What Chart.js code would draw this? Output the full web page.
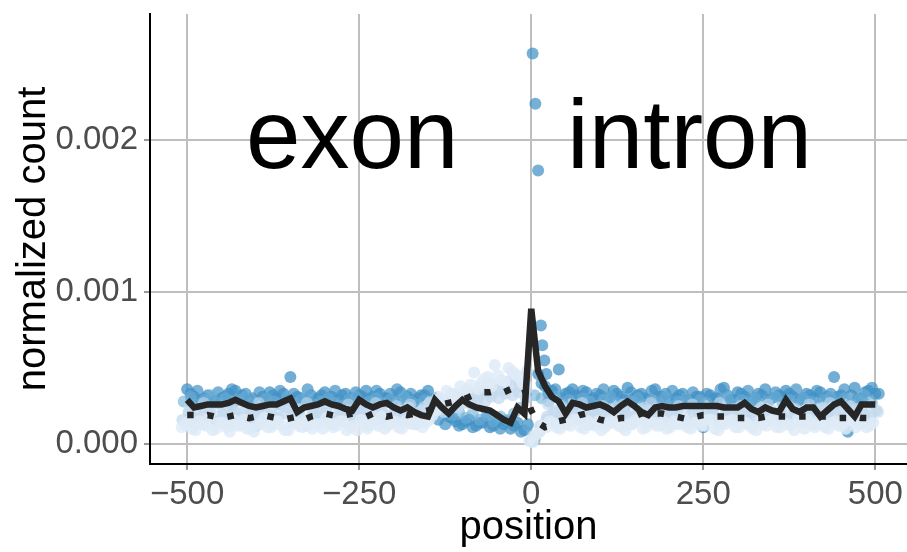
<!DOCTYPE html>
<html>
<head>
<meta charset="utf-8">
<script src="https://cdn.jsdelivr.net/npm/chart.js@4.4.1/dist/chart.umd.min.js"></script>
<style>
html,body{margin:0;padding:0;background:#fff;}
#wrap{width:907px;height:552px;}
</style>
</head>
<body>
<div id="wrap"><canvas id="c" width="907" height="552"></canvas></div>
<script>
// ---------- data ----------
const xTicks = [-500, -250, 0, 250, 500];
const yTicks = [0, 0.001, 0.002];
const annotations = [{ label: "exon", x: -260, y: 0.002 }, { label: "intron", x: 230, y: 0.002 }];

// bin positions (-500 .. 500 every 10)
const positions = [];
for (let p = -500; p <= 500; p += 10) positions.push(p);

// solid line (mean)
const meanLine = [
  0.00029,0.00024,0.00025,0.00026,0.00026,0.00026,0.00027,0.00029,0.00027,0.00025,
  0.00024,0.00025,0.00026,0.00026,0.00028,0.00030,0.00021,0.00024,0.00025,0.00026,
  0.00028,0.00026,0.00025,0.00023,0.00022,0.00029,0.00026,0.00024,0.00026,0.00027,
  0.00024,0.00022,0.00024,0.00021,0.00019,0.00018,0.00029,0.00024,0.00020,0.00025,
  0.00029,0.00026,0.00024,0.00023,0.00022,0.00019,0.00016,0.00014,0.00024,0.00020,
  0.00089,0.00048,0.00038,0.00031,0.00028,0.00020,0.00027,0.00026,0.00024,0.00025,
  0.00026,0.00024,0.00021,0.00025,0.00028,0.00025,0.00021,0.00019,0.00024,0.00025,
  0.00024,0.00024,0.00025,0.00025,0.00025,0.00025,0.00025,0.00025,0.00024,0.00024,
  0.00024,0.00027,0.00023,0.00021,0.00024,0.00022,0.00021,0.00029,0.00023,0.00021,
  0.00024,0.00024,0.00018,0.00022,0.00026,0.00028,0.00023,0.00018,0.00026,0.00026,
  0.00026
];

// dotted line
const dottedLine = [
  0.00019,0.00019,0.00018,0.00019,0.00018,0.00017,0.00018,0.00019,0.00018,0.00017,
  0.00018,0.00019,0.00018,0.00017,0.00016,0.00017,0.00018,0.00016,0.00018,0.00019,
  0.00020,0.00019,0.00018,0.00019,0.00020,0.00019,0.00018,0.00020,0.00019,0.00018,
  0.00019,0.00020,0.00019,0.00020,0.00021,0.00022,0.00024,0.00026,0.00027,0.00028,
  0.00029,0.00031,0.00033,0.00034,0.00034,0.00035,0.00034,0.00036,0.00038,0.00036,
  0.00022,0.00014,0.00011,0.00012,0.00015,0.00016,0.00017,0.00019,0.00020,0.00018,
  0.00016,0.00015,0.00016,0.00017,0.00017,0.00018,0.00020,0.00021,0.00020,0.00020,
  0.00019,0.00018,0.00017,0.00016,0.00018,0.00019,0.00019,0.00018,0.00018,0.00018,
  0.00017,0.00017,0.00017,0.00017,0.00018,0.00018,0.00018,0.00018,0.00018,0.00018,
  0.00018,0.00019,0.00018,0.00018,0.00017,0.00017,0.00017,0.00018,0.00017,0.00017,
  0.00017
];

// sample points (one value per bin, each sample slightly shifted along x)
const sampleDark = [
  0.00036,0.00031,0.00029,0.00032,0.00028,0.00030,0.00033,0.00035,0.00032,0.00029,
  0.00012,0.00031,0.00034,0.00030,0.00033,0.00044,0.00031,0.00029,0.00032,0.00030,
  0.00034,0.00031,0.00029,0.00033,0.00030,0.00032,0.00035,0.00031,0.00033,0.00030,
  0.00029,0.00034,0.00031,0.00028,0.00032,0.00035,0.00030,0.00027,0.00018,0.00015,
  0.00013,0.00016,0.00012,0.00014,0.00011,0.00015,0.00013,0.00010,0.00014,0.00009,
  0.00002,0.00046,0.00038,0.00035,0.00049,0.00033,0.00036,0.00031,0.00034,0.00030,
  0.00032,0.00029,0.00035,0.00031,0.00037,0.00030,0.00033,0.00029,0.00036,0.00031,
  0.00028,0.00030,0.00033,0.00029,0.00031,0.00011,0.00032,0.00030,0.00037,0.00029,
  0.00034,0.00031,0.00028,0.00033,0.00036,0.00030,0.00032,0.00035,0.00031,0.00029,
  0.00033,0.00030,0.00034,0.00031,0.00044,0.00032,0.00008,0.00037,0.00030,0.00035,
  0.00033
];
const sampleDark2 = [
  0.00033,0.00035,0.00030,0.00027,0.00034,0.00031,0.00036,0.00029,0.00033,0.00030,
  0.00034,0.00028,0.00032,0.00035,0.00029,0.00033,0.00030,0.00036,0.00028,0.00032,
  0.00030,0.00035,0.00032,0.00028,0.00034,0.00031,0.00029,0.00035,0.00030,0.00033,
  0.00036,0.00029,0.00033,0.00030,0.00032,0.00028,0.00016,0.00013,0.00017,0.00012,
  0.00015,0.00011,0.00014,0.00017,0.00012,0.00010,0.00015,0.00012,0.00008,0.00013,
  0.00003,0.00040,0.00033,0.00036,0.00030,0.00034,0.00032,0.00035,0.00029,0.00033,
  0.00036,0.00031,0.00033,0.00029,0.00034,0.00032,0.00030,0.00035,0.00031,0.00033,
  0.00035,0.00032,0.00029,0.00034,0.00031,0.00033,0.00030,0.00036,0.00032,0.00029,
  0.00033,0.00035,0.00030,0.00032,0.00029,0.00034,0.00031,0.00033,0.00036,0.00030,
  0.00032,0.00035,0.00029,0.00033,0.00031,0.00036,0.00032,0.00030,0.00034,0.00037,
  0.00033
];
const sampleMid = [
  0.00028,0.00031,0.00026,0.00029,0.00032,0.00027,0.00030,0.00025,0.00029,0.00031,
  0.00027,0.00024,0.00030,0.00028,0.00026,0.00031,0.00027,0.00029,0.00032,0.00026,
  0.00028,0.00030,0.00027,0.00025,0.00029,0.00031,0.00026,0.00028,0.00030,0.00027,
  0.00029,0.00025,0.00031,0.00028,0.00026,0.00029,0.00024,0.00027,0.00022,0.00019,
  0.00021,0.00017,0.00020,0.00016,0.00019,0.00015,0.00018,0.00016,0.00020,0.00024,
  0.00012,0.00032,0.00030,0.00028,0.00031,0.00027,0.00029,0.00026,0.00030,0.00028,
  0.00025,0.00029,0.00031,0.00027,0.00024,0.00028,0.00030,0.00026,0.00029,0.00027,
  0.00031,0.00025,0.00028,0.00030,0.00026,0.00029,0.00027,0.00024,0.00028,0.00031,
  0.00026,0.00029,0.00027,0.00030,0.00025,0.00028,0.00031,0.00027,0.00029,0.00026,
  0.00030,0.00028,0.00025,0.00029,0.00031,0.00027,0.00030,0.00026,0.00029,0.00032,
  0.00027
];
const sampleLight = [
  0.00021,0.00017,0.00024,0.00019,0.00015,0.00022,0.00018,0.00020,0.00016,0.00023,
  0.00019,0.00014,0.00021,0.00017,0.00024,0.00019,0.00022,0.00016,0.00020,0.00018,
  0.00023,0.00015,0.00021,0.00019,0.00017,0.00022,0.00020,0.00016,0.00023,0.00018,
  0.00021,0.00017,0.00024,0.00019,0.00022,0.00027,0.00023,0.00029,0.00025,0.00031,
  0.00027,0.00033,0.00029,0.00035,0.00031,0.00036,0.00033,0.00038,0.00034,0.00030,
  0.00004,0.00008,0.00016,0.00021,0.00018,0.00022,0.00019,0.00016,0.00021,0.00018,
  0.00023,0.00017,0.00020,0.00022,0.00018,0.00015,0.00021,0.00019,0.00023,0.00017,
  0.00020,0.00022,0.00016,0.00019,0.00021,0.00018,0.00023,0.00017,0.00020,0.00016,
  0.00022,0.00019,0.00021,0.00017,0.00023,0.00018,0.00020,0.00016,0.00022,0.00019,
  0.00021,0.00017,0.00023,0.00018,0.00020,0.00016,0.00022,0.00019,0.00021,0.00018,
  0.00022
];
const sampleLight2 = [
  0.00016,0.00020,0.00013,0.00018,0.00022,0.00015,0.00019,0.00012,0.00017,0.00021,
  0.00014,0.00018,0.00022,0.00013,0.00017,0.00020,0.00015,0.00019,0.00012,0.00018,
  0.00021,0.00016,0.00013,0.00019,0.00022,0.00015,0.00018,0.00012,0.00020,0.00017,
  0.00014,0.00019,0.00021,0.00016,0.00013,0.00018,0.00022,0.00025,0.00021,0.00027,
  0.00024,0.00029,0.00026,0.00031,0.00028,0.00033,0.00030,0.00035,0.00032,0.00040,
  0.00036,0.00005,0.00012,0.00018,0.00015,0.00019,0.00014,0.00017,0.00020,0.00013,
  0.00018,0.00021,0.00014,0.00017,0.00020,0.00013,0.00019,0.00016,0.00022,0.00015,
  0.00018,0.00013,0.00020,0.00017,0.00014,0.00021,0.00016,0.00019,0.00013,0.00018,
  0.00020,0.00015,0.00018,0.00013,0.00021,0.00016,0.00019,0.00014,0.00017,0.00020,
  0.00015,0.00019,0.00013,0.00018,0.00021,0.00014,0.00017,0.00020,0.00016,0.00019,
  0.00015
];
const samplePaleA = [
  0.00013,0.00010,0.00015,0.00012,0.00009,0.00014,0.00011,0.00016,0.00012,0.00010,
  0.00008,0.00013,0.00011,0.00015,0.00012,0.00009,0.00014,0.00011,0.00016,0.00013,
  0.00010,0.00014,0.00012,0.00015,0.00011,0.00009,0.00013,0.00016,0.00012,0.00010,
  0.00014,0.00011,0.00015,0.00013,0.00017,0.00014,0.00019,0.00030,0.00035,0.00033,
  0.00038,0.00036,0.00047,0.00040,0.00044,0.00052,0.00042,0.00050,0.00046,0.00040,
  0.00002,0.00006,0.00012,0.00015,0.00011,0.00014,0.00012,0.00016,0.00010,0.00013,
  0.00015,0.00011,0.00014,0.00012,0.00009,0.00013,0.00016,0.00011,0.00014,0.00012,
  0.00010,0.00015,0.00013,0.00011,0.00014,0.00012,0.00016,0.00010,0.00013,0.00015,
  0.00011,0.00014,0.00012,0.00009,0.00013,0.00015,0.00011,0.00014,0.00012,0.00016,
  0.00010,0.00013,0.00015,0.00011,0.00014,0.00012,0.00010,0.00015,0.00013,0.00011,
  0.00014
];
const samplePaleB = [
  0.00024,0.00020,0.00027,0.00022,0.00018,0.00025,0.00021,0.00026,0.00019,0.00023,
  0.00027,0.00021,0.00018,0.00024,0.00026,0.00020,0.00023,0.00027,0.00019,0.00022,
  0.00025,0.00021,0.00018,0.00026,0.00023,0.00020,0.00024,0.00027,0.00021,0.00019,
  0.00025,0.00022,0.00026,0.00020,0.00024,0.00028,0.00031,0.00027,0.00033,0.00029,
  0.00035,0.00031,0.00037,0.00033,0.00039,0.00035,0.00041,0.00045,0.00037,0.00048,
  0.00003,0.00010,0.00026,0.00022,0.00025,0.00020,0.00024,0.00027,0.00021,0.00019,
  0.00025,0.00023,0.00020,0.00026,0.00022,0.00018,0.00024,0.00027,0.00021,0.00023,
  0.00019,0.00025,0.00022,0.00026,0.00020,0.00024,0.00021,0.00027,0.00019,0.00023,
  0.00025,0.00021,0.00018,0.00024,0.00026,0.00022,0.00020,0.00025,0.00023,0.00019,
  0.00026,0.00021,0.00024,0.00027,0.00022,0.00020,0.00025,0.00023,0.00019,0.00024,
  0.00021
];
const samplePaleC = [
  0.00011,0.00015,0.00009,0.00013,0.00017,0.00010,0.00014,0.00008,0.00012,0.00016,
  0.00010,0.00013,0.00017,0.00011,0.00015,0.00009,0.00014,0.00012,0.00016,0.00010,
  0.00013,0.00017,0.00011,0.00015,0.00009,0.00012,0.00016,0.00010,0.00014,0.00018,
  0.00012,0.00015,0.00010,0.00014,0.00017,0.00011,0.00016,0.00022,0.00026,0.00031,
  0.00028,0.00034,0.00039,0.00036,0.00043,0.00038,0.00045,0.00041,0.00048,0.00044,
  0.00039,0.00001,0.00008,0.00011,0.00014,0.00010,0.00013,0.00016,0.00011,0.00015,
  0.00012,0.00009,0.00014,0.00017,0.00011,0.00013,0.00016,0.00010,0.00014,0.00012,
  0.00015,0.00011,0.00013,0.00017,0.00010,0.00014,0.00012,0.00016,0.00009,0.00013,
  0.00016,0.00011,0.00014,0.00010,0.00015,0.00012,0.00017,0.00011,0.00013,0.00009,
  0.00014,0.00016,0.00011,0.00013,0.00010,0.00015,0.00012,0.00017,0.00011,0.00014,
  0.00012
];
// spike points just downstream of the junction
const peakX = [2, 6, 10, 14, 16, 19, 22];
const peakY = [0.00257, 0.00224, 0.00180, 0.00078, 0.00065, 0.00055, 0.00046];

// sample shifts along x (data units)
const sampleShift = { dark: 0, dark2: 5, mid: -5, light: 2, light2: -7, paleA: -3, paleB: 4, paleC: -8 };

// ---------- build ----------
function pts(vals, shift) { return vals.map((v, i) => ({ x: positions[i] + shift, y: v })); }

const R = 6;
function pointSet(label, vals, shift, color, order) {
  return { label, data: pts(vals, shift), backgroundColor: color, borderWidth: 0,
           pointRadius: R, pointHoverRadius: R, showLine: false, order };
}

const datasets = [
  { label: "mean", data: pts(meanLine, 0), showLine: true, borderColor: "#262626",
    borderWidth: 6.5, pointRadius: 0, tension: 0, fill: false, order: 0 },
  { label: "dotted", data: pts(dottedLine, 0), showLine: true, borderColor: "#262626",
    borderWidth: 6.5, borderDash: [6.5, 14], borderCapStyle: "butt", pointRadius: 0, tension: 0, fill: false, order: 1 },
  { label: "peak", data: peakX.map((x, i) => ({ x, y: peakY[i] })), backgroundColor: "rgba(66,146,198,0.72)",
    borderWidth: 0, pointRadius: R, showLine: false, order: 2 },
  pointSet("paleA", samplePaleA, sampleShift.paleA, "rgba(222,235,247,0.85)", 3),
  pointSet("paleC", samplePaleC, sampleShift.paleC, "rgba(222,235,247,0.8)", 4),
  pointSet("paleB", samplePaleB, sampleShift.paleB, "rgba(198,219,239,0.6)", 5),
  pointSet("light", sampleLight, sampleShift.light, "rgba(198,219,239,0.8)", 6),
  pointSet("light2", sampleLight2, sampleShift.light2, "rgba(198,219,239,0.75)", 7),
  pointSet("mid", sampleMid, sampleShift.mid, "rgba(107,174,214,0.6)", 8),
  pointSet("dark2", sampleDark2, sampleShift.dark2, "rgba(66,146,198,0.7)", 9),
  pointSet("dark", sampleDark, sampleShift.dark, "rgba(66,146,198,0.75)", 10)
];

const textPlugin = {
  id: "annot",
  afterDraw(chart) {
    const { ctx, scales } = chart;
    ctx.save();
    ctx.font = '98px "Liberation Sans", Arial, sans-serif';
    ctx.fillStyle = "#000";
    ctx.textAlign = "center";
    ctx.textBaseline = "alphabetic";
    annotations.forEach(a => {
      ctx.fillText(a.label, scales.x.getPixelForValue(a.x), scales.y.getPixelForValue(a.y) + 28);
    });
    ctx.restore();
  }
};

const fmtMinus = v => (v < 0 ? "\u2212" + Math.abs(v) : String(v));
const FONT = '"Liberation Sans", Arial, sans-serif';

new Chart(document.getElementById("c"), {
  type: "scatter",
  data: { datasets },
  plugins: [textPlugin],
  options: {
    responsive: false,
    animation: false,
    devicePixelRatio: 1,
    layout: { autoPadding: false, padding: { left: 0, top: 14, right: 0, bottom: 0 } },
    plugins: { legend: { display: false }, tooltip: { enabled: false } },
    scales: {
      x: {
        type: "linear", min: -554, max: 546,
        afterBuildTicks: s => { s.ticks = xTicks.map(v => ({ value: v })); },
        afterFit: s => { s.height = 88; s.paddingLeft = 0; s.paddingRight = 0; },
        ticks: { callback: v => fmtMinus(v), color: "#4d4d4d", padding: 5,
                 font: { family: FONT, size: 33 }, maxRotation: 0 },
        grid: { color: "#bebebe", lineWidth: 2, tickLength: 6, tickColor: "#999", tickWidth: 2 },
        border: { display: true, color: "#000", width: 2 },
        title: { display: true, text: "position", color: "#000", padding: { top: 0, bottom: 0 },
                 font: { family: FONT, size: 40 } }
      },
      y: {
        type: "linear", min: -0.000132, max: 0.00283,
        afterBuildTicks: s => { s.ticks = yTicks.map(v => ({ value: v })); },
        afterFit: s => { s.width = 150; s.paddingTop = 0; s.paddingBottom = 0; },
        ticks: { callback: v => v.toFixed(3), color: "#4d4d4d", padding: 6,
                 font: { family: FONT, size: 33 } },
        grid: { color: "#bebebe", lineWidth: 2, tickLength: 6, tickColor: "#999", tickWidth: 2 },
        border: { display: true, color: "#000", width: 2 },
        title: { display: true, text: "normalized count", color: "#000", padding: { top: 10, bottom: 0 },
                 font: { family: FONT, size: 40 } }
      }
    }
  }
});
</script>
</body>
</html>
